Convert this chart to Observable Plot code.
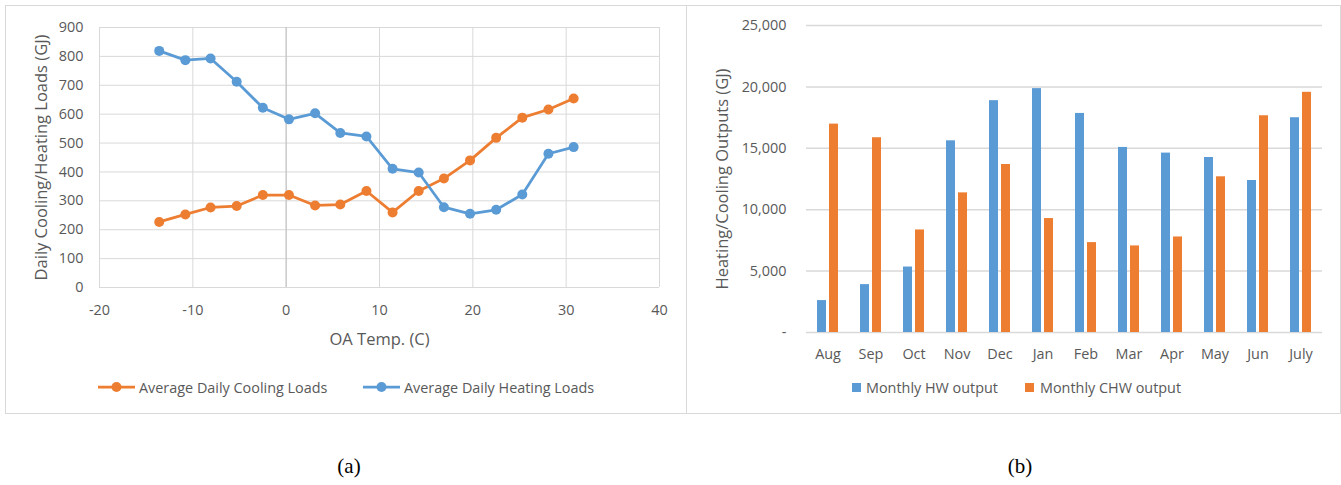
<!DOCTYPE html>
<html>
<head>
<meta charset="utf-8">
<script src="https://cdn.jsdelivr.net/npm/d3@7"></script>
<script src="https://cdn.jsdelivr.net/npm/@observablehq/plot@0.6"></script>
<style>
  html, body { margin: 0; padding: 0; background: #fff; }
  body { width: 1341px; height: 485px; position: relative; overflow: hidden; font-family: "Open Sans", sans-serif; color: #595959; }
  .panel { position: absolute; top: 5px; height: 409px; border: 1.5px solid #d9d9d9; box-sizing: border-box; }
  .chart { position: absolute; top: 0; }
  .chart [aria-label$="axis label"] text, .chart [aria-label$="axis label"] { font-size: 16.5px; }
  .item { position: absolute; top: 377px; height: 20px; font-size: 14.4px; color: #595959; display: flex; align-items: center; white-space: nowrap; }
  .caption { position: absolute; top: 454px; font-family: "Liberation Serif", serif; font-size: 21px; color: #000; transform: translateX(-50%); }
</style>
</head>
<body>
<div class="panel" style="left:5px; width:682px;"></div>
<div class="panel" style="left:686px; width:655px; border-left:none;"></div>
<div id="left" class="chart" style="left:0px;"></div>
<div id="right" class="chart" style="left:686px;"></div>
<span class="item" style="left:98px"><svg width="37" height="12"><line x1="0" y1="6" x2="37" y2="6" stroke="#ED7D31" stroke-width="2.75"/><circle cx="18.5" cy="6" r="5" fill="#ED7D31"/></svg><span style="margin-left:4px">Average Daily Cooling Loads</span></span>
<span class="item" style="left:363px"><svg width="37" height="12"><line x1="0" y1="6" x2="37" y2="6" stroke="#5B9BD5" stroke-width="2.75"/><circle cx="18.5" cy="6" r="5" fill="#5B9BD5"/></svg><span style="margin-left:4px">Average Daily Heating Loads</span></span>
<span class="item" style="left:852px"><svg width="9" height="9"><rect width="9" height="9" fill="#5B9BD5"/></svg><span style="margin-left:5px">Monthly HW output</span></span>
<span class="item" style="left:1025px"><svg width="9" height="9"><rect width="9" height="9" fill="#ED7D31"/></svg><span style="margin-left:6px">Monthly CHW output</span></span>
<div class="caption" style="left:349px;">(a)</div>
<div class="caption" style="left:1020px;">(b)</div>
<script>
// ---- Panel (a) data ----
const oaTemps = [-13.6, -10.8, -8.1, -5.3, -2.5, 0.3, 3.1, 5.8, 8.6, 11.4, 14.2, 16.9, 19.7, 22.5, 25.3, 28.1, 30.8];
const coolingLoads = [227, 253, 277, 282, 320, 320, 284, 287, 334, 260, 334, 377, 440, 518, 588, 616, 654];
const heatingLoads = [819, 787, 793, 712, 622, 582, 603, 535, 523, 411, 398, 278, 255, 269, 322, 463, 486];
const xTicksA = [-20, -10, 0, 10, 20, 30, 40];
const yTicksA = [0, 100, 200, 300, 400, 500, 600, 700, 800, 900];

// ---- Panel (b) data ----
const months = ["Aug", "Sep", "Oct", "Nov", "Dec", "Jan", "Feb", "Mar", "Apr", "May", "Jun", "July"];
const hwOutput = [2600, 3900, 5330, 15610, 18880, 19860, 17840, 15070, 14610, 14250, 12380, 17490];
const chwOutput = [16970, 15860, 8350, 11370, 13680, 9280, 7320, 7050, 7780, 12680, 17650, 19560];
const yTicksB = [0, 5000, 10000, 15000, 20000, 25000];
const seriesB = ["Monthly HW output", "Monthly CHW output"];

const ORANGE = "#ED7D31", BLUE = "#5B9BD5", GRID = "#d9d9d9", TEXT = "#595959";
const FONT = {fontFamily: "Open Sans, sans-serif", fontSize: "14.4px", color: TEXT, background: "transparent"};

const cool = oaTemps.map((t, i) => ({t, v: coolingLoads[i]}));
const heat = oaTemps.map((t, i) => ({t, v: heatingLoads[i]}));

const chartA = Plot.plot({
  width: 685, height: 352,
  marginLeft: 99, marginRight: 26, marginTop: 27, marginBottom: 65,
  style: FONT,
  x: {domain: [-20, 40], ticks: xTicksA, tickSize: 0, tickPadding: 17, label: "OA Temp. (C)", labelArrow: "none", labelAnchor: "center", labelOffset: 57, tickFormat: d => String(d)},
  y: {domain: [0, 900], ticks: yTicksA, tickSize: 0, tickPadding: 16, label: "Daily Cooling/Heating Loads (GJ)", labelArrow: "none", labelAnchor: "center", labelOffset: 64},
  marks: [
    Plot.ruleY(yTicksA, {stroke: GRID, strokeWidth: 1}),
    Plot.ruleX(xTicksA, {stroke: GRID, strokeWidth: 1}),
    Plot.ruleX([0], {stroke: "#bfbfbf", strokeWidth: 1}),
    Plot.line(cool, {x: "t", y: "v", stroke: ORANGE, strokeWidth: 2.75}),
    Plot.dot(cool, {x: "t", y: "v", fill: ORANGE, r: 5}),
    Plot.line(heat, {x: "t", y: "v", stroke: BLUE, strokeWidth: 2.75}),
    Plot.dot(heat, {x: "t", y: "v", fill: BLUE, r: 5})
  ]
});
document.getElementById("left").appendChild(chartA);

const rows = [];
months.forEach((m, i) => {
  rows.push({month: m, series: seriesB[0], value: hwOutput[i]});
  rows.push({month: m, series: seriesB[1], value: chwOutput[i]});
});

const chartB = Plot.plot({
  width: 651, height: 370,
  marginLeft: 119, marginRight: 15, marginTop: 25, marginBottom: 38,
  style: FONT,
  facet: {data: rows, x: "month"},
  fx: {domain: months, padding: 0, tickSize: 0, tickPadding: 16, label: null, axis: "bottom"},
  x: {domain: seriesB, axis: null, paddingInner: 0.21, paddingOuter: 0.8},
  y: {domain: [0, 25000], ticks: yTicksB, tickSize: 0, tickPadding: 20, tickFormat: d => d === 0 ? "-" : d3.format(",")(d), label: "Heating/Cooling Outputs (GJ)", labelArrow: "none", labelAnchor: "center", labelOffset: 90},
  color: {domain: seriesB, range: [BLUE, ORANGE]},
  marks: [
    Plot.ruleY(yTicksB, {stroke: GRID, strokeWidth: 1.5}),
    Plot.barY(rows, {x: "series", y: "value", fill: "series"})
  ]
});
document.getElementById("right").appendChild(chartB);
</script>
</body>
</html>
